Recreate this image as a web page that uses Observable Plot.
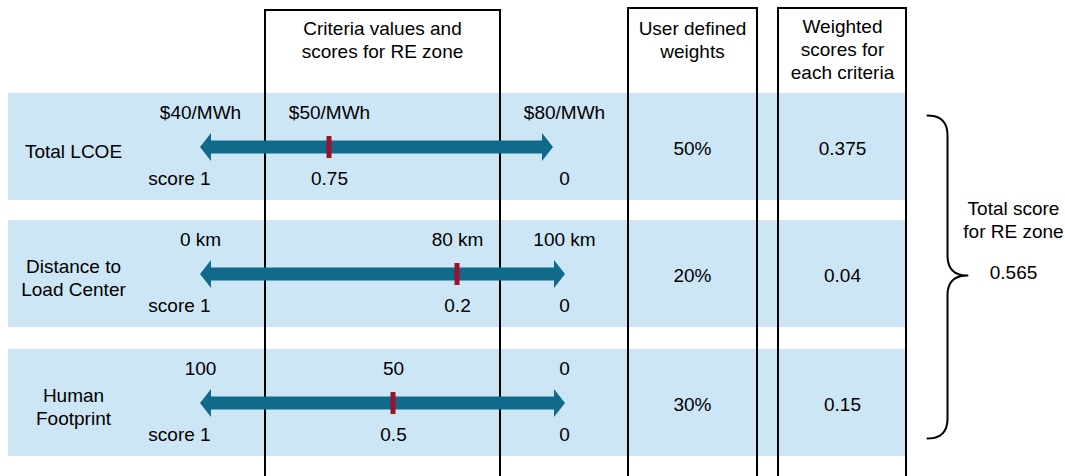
<!DOCTYPE html>
<html><head><meta charset="utf-8">
<script src="https://cdn.jsdelivr.net/npm/d3@7"></script>
<script src="https://cdn.jsdelivr.net/npm/@observablehq/plot@0.6"></script>
<style>body{margin:0;background:#fff;} svg{display:block}</style>
</head><body><div id="chart"></div>
<script>
// ---- data ----
const criteria = ["Total LCOE", "Distance to\nLoad Center", "Human\nFootprint"];
const bestValues = ["$40/MWh", "0 km", "100"];
const zoneValues = ["$50/MWh", "80 km", "50"];
const worstValues = ["$80/MWh", "100 km", "0"];
const bestScores = [1, 1, 1];
const zoneScores = [0.75, 0.2, 0.5];
const worstScores = [0, 0, 0];
const weights = [0.5, 0.2, 0.3];
const weightedScores = [0.375, 0.04, 0.15];
const totalScore = 0.565;
const headers = ["Criteria values and\nscores for RE zone", "User defined\nweights", "Weighted\nscores for\neach criteria"];
const totalLabel = "Total score\nfor RE zone";

// ---- layout (diagram units = pixels) ----
const W = 1065, H = 476;
const rowTop = [93, 220, 349], rowH = 107;
const bandX = [8, 906];
const arrowLeft = 200, arrowRight = [553, 565, 565];
const markerX = [329, 457, 393];
const boxes = [
  {x1: 265, x2: 500, y1: 10, hx: 382, hy: 39},
  {x1: 628, x2: 757, y1: 8, hx: 692, hy: 38.5},
  {x1: 778, x2: 906, y1: 8, hx: 842, hy: 48}
];
const col = {label: 73, best: 200, scoreBest: 179, worst: 564, weight: 692, weighted: 842, total: 1013};
const FONT = 19;
const LH = 23 / 19;

const rows = criteria.map((c, i) => ({
  i, criterion: c, top: rowTop[i], mid: rowTop[i] + 54,
  best: bestValues[i], zone: zoneValues[i], worst: worstValues[i],
  bestScore: bestScores[i], zoneScore: zoneScores[i], worstScore: worstScores[i],
  weight: weights[i], weighted: weightedScores[i],
  right: arrowRight[i], mx: markerX[i]
}));

// arrow polygons (double headed)
const headLen = 11, headHalf = 14, shaftHalf = 6.5;
const arrowPts = rows.flatMap(r => [
  [arrowLeft, 0], [arrowLeft + headLen, headHalf], [arrowLeft + headLen, shaftHalf],
  [r.right - headLen, shaftHalf], [r.right - headLen, headHalf], [r.right, 0]
].map(([x, h]) => ({row: r.i, x, y1: r.mid - h, y2: r.mid + h})));

// brace
function quad(p0, c, p1, n = 12) {
  const pts = [];
  for (let k = 0; k <= n; k++) {
    const t = k / n, a = (1 - t) * (1 - t), b = 2 * (1 - t) * t, d = t * t;
    pts.push([a * p0[0] + b * c[0] + d * p1[0], a * p0[1] + b * c[1] + d * p1[1]]);
  }
  return pts;
}
const bx0 = 927, bxv = 947, bxt = 967, byTop = 115, byTip = 275, byBot = 438, br = 20;
const bracePts = [
  ...quad([bx0, byTop], [bxv, byTop], [bxv, byTop + br]),
  ...quad([bxv, byTip - br], [bxv, byTip], [bxt, byTip]),
  ...quad([bxt, byTip], [bxv, byTip], [bxv, byTip + br]),
  ...quad([bxv, byBot - br], [bxv, byBot], [bx0, byBot])
].map(([x, y]) => ({x, y}));

const fmtPct = d3.format(".0%");
const txt = {fontSize: FONT, fill: "#000", lineHeight: LH, lineAnchor: "middle", textAnchor: "middle"};

const plot = Plot.plot({
  width: W, height: H, margin: 0,
  style: {fontFamily: "'Liberation Sans', Arial, sans-serif", background: "#fff"},
  x: {type: "linear", domain: [0, W], range: [0, W], axis: null},
  y: {type: "linear", domain: [0, H], range: [0, H], axis: null},
  marks: [
    Plot.rect(rows, {x1: () => bandX[0], x2: () => bandX[1], y1: "top", y2: d => d.top + rowH, fill: "#cde6f6"}),
    Plot.rect(boxes, {x1: "x1", x2: "x2", y1: "y1", y2: () => H + 20, fill: "none", stroke: "#000", strokeWidth: 2}),
    Plot.area(arrowPts, {x1: "x", y1: "y1", y2: "y2", z: "row", fill: "#0f6a8b", curve: "linear"}),
    Plot.rect(rows, {x1: d => d.mx - 2.5, x2: d => d.mx + 2.5, y1: d => d.mid - 11, y2: d => d.mid + 11, fill: "#9c1131"}),
    Plot.text(boxes.map((b, i) => ({...b, t: headers[i]})), {x: "hx", y: "hy", text: "t", ...txt}),
    Plot.text(rows, {x: () => col.label, y: d => d.top + 57, text: "criterion", ...txt}),
    Plot.text(rows, {x: () => col.best, y: d => d.top + 18, text: "best", ...txt}),
    Plot.text(rows, {x: "mx", y: d => d.top + 18, text: "zone", ...txt}),
    Plot.text(rows, {x: () => col.worst, y: d => d.top + 18, text: "worst", ...txt}),
    Plot.text(rows, {x: () => col.scoreBest, y: d => d.top + 84, text: d => "score " + d.bestScore, ...txt}),
    Plot.text(rows, {x: "mx", y: d => d.top + 84, text: d => String(d.zoneScore), ...txt}),
    Plot.text(rows, {x: () => col.worst, y: d => d.top + 84, text: d => String(d.worstScore), ...txt}),
    Plot.text(rows, {x: () => col.weight, y: "mid", text: d => fmtPct(d.weight), ...txt}),
    Plot.text(rows, {x: () => col.weighted, y: "mid", text: d => String(d.weighted), ...txt}),
    Plot.line(bracePts, {x: "x", y: "y", stroke: "#000", strokeWidth: 2, curve: "linear"}),
    Plot.text([totalLabel], {x: () => col.total, y: () => 219, text: d => d, ...txt}),
    Plot.text([totalScore], {x: () => col.total, y: () => 271, text: d => String(d), ...txt})
  ]
});
document.getElementById("chart").appendChild(plot);
</script>
</body></html>
